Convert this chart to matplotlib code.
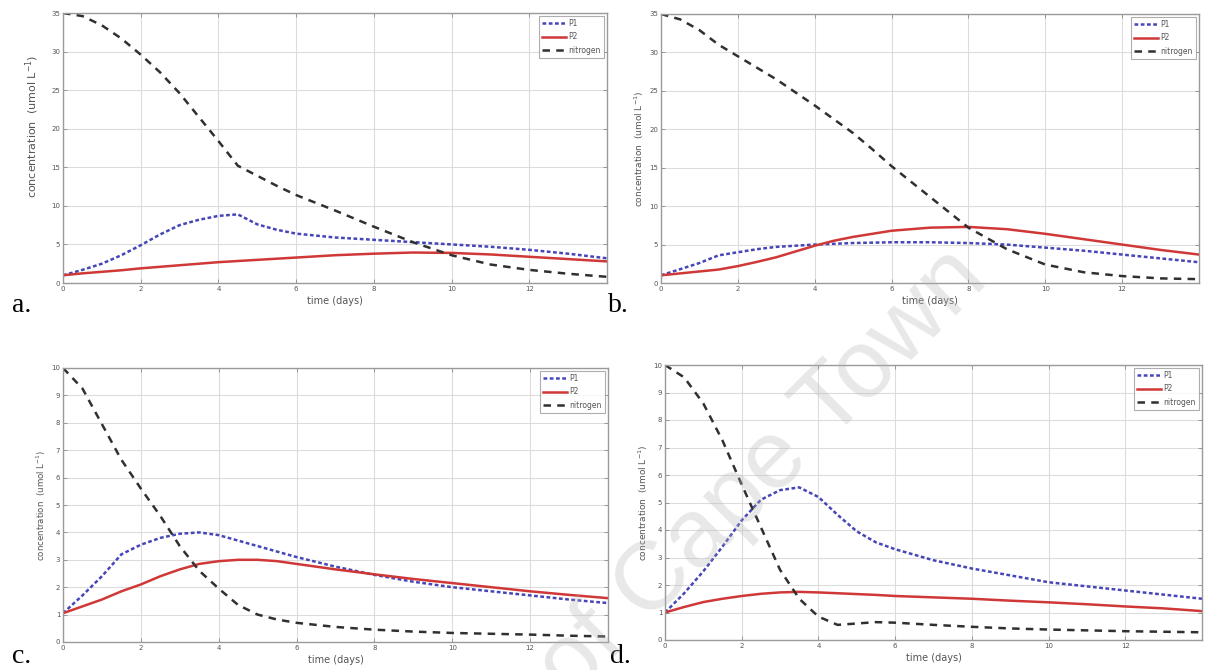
import matplotlib
matplotlib.use("Agg")
import matplotlib.pyplot as plt

# ---- data ----
t = [0, 0.5, 1, 1.5, 2, 2.5, 3, 3.5, 4, 4.5, 5, 5.5, 6, 7, 8, 9, 10, 11, 12, 13, 14]

p1_a = [1.0, 1.7, 2.5, 3.6, 4.9, 6.3, 7.5, 8.2, 8.7, 8.9, 7.6, 6.9, 6.4, 5.9, 5.6, 5.3, 5.0, 4.7, 4.3, 3.8, 3.2]
p2_a = [1.0, 1.25, 1.45, 1.65, 1.9, 2.1, 2.3, 2.5, 2.7, 2.85, 3.0, 3.15, 3.3, 3.6, 3.8, 3.95, 3.9, 3.7, 3.4, 3.1, 2.8]
n_a = [35, 34.6, 33.4, 31.7, 29.6, 27.3, 24.6, 21.5, 18.4, 15.2, 13.9, 12.6, 11.4, 9.4, 7.3, 5.3, 3.6, 2.4, 1.7, 1.2, 0.8]

p1_b = [1.0, 1.8, 2.6, 3.6, 4.0, 4.4, 4.7, 4.85, 5.0, 5.1, 5.2, 5.25, 5.3, 5.3, 5.2, 5.0, 4.6, 4.2, 3.7, 3.2, 2.7]
p2_b = [1.0, 1.25, 1.5, 1.75, 2.2, 2.75, 3.35, 4.1, 4.85, 5.5, 6.0, 6.4, 6.8, 7.2, 7.3, 7.0, 6.4, 5.7, 5.0, 4.3, 3.7]
n_b = [35, 34.3, 32.9, 31.0, 29.5, 28.0, 26.5, 24.8, 23.1, 21.3, 19.5, 17.4, 15.2, 11.2, 7.2, 4.4, 2.4, 1.4, 0.9, 0.6, 0.5]

p1_c = [1.05, 1.7, 2.4, 3.2, 3.55, 3.8, 3.95, 4.0, 3.9, 3.7, 3.5, 3.3, 3.1, 2.75, 2.45, 2.2, 2.0, 1.85, 1.7, 1.55, 1.42]
p2_c = [1.05, 1.3, 1.55, 1.85, 2.1, 2.4, 2.65, 2.85, 2.95, 3.0, 3.0, 2.95, 2.85, 2.65, 2.47, 2.3, 2.15, 2.0, 1.85, 1.72, 1.6]
n_c = [10, 9.25, 7.95, 6.65, 5.6, 4.6, 3.5, 2.6, 1.95, 1.35, 1.0, 0.82, 0.7, 0.55, 0.45, 0.38, 0.33, 0.3, 0.27, 0.23, 0.2]

p1_d = [1.0, 1.7, 2.5, 3.4, 4.35, 5.1, 5.45, 5.55, 5.2, 4.55, 3.95, 3.55, 3.3, 2.9, 2.6, 2.35, 2.1, 1.95, 1.8, 1.65, 1.5]
p2_d = [1.0, 1.2, 1.38, 1.5, 1.6, 1.68, 1.73, 1.75, 1.73, 1.7, 1.67, 1.64, 1.6, 1.55, 1.5, 1.43, 1.37, 1.3, 1.22, 1.15, 1.05]
n_d = [10, 9.55, 8.6, 7.25, 5.65, 4.1, 2.55, 1.5, 0.85, 0.55, 0.6, 0.65, 0.63, 0.55, 0.48, 0.42, 0.38, 0.35, 0.32, 0.3, 0.28]

series_names = ["P1", "P2", "nitrogen"]
panel_letters = ["a.", "b.", "c.", "d."]
xticks = [0, 2, 4, 6, 8, 10, 12]
yticks_big = [0, 5, 10, 15, 20, 25, 30, 35]
yticks_small = [0, 1, 2, 3, 4, 5, 6, 7, 8, 9, 10]
xlabel = "time (days)"
ylabel = "concentration  (umol L$^{-1}$)"

W, H = 1206, 670
fig = plt.figure(figsize=(W / 100, H / 100), dpi=100)
fig.patch.set_facecolor("white")


def px_rect(l, r, top, bot):
    return [l / W, 1 - bot / H, (r - l) / W, (bot - top) / H]


rects = [
    px_rect(63, 607, 13, 283),
    px_rect(661, 1199, 14, 283),
    px_rect(63, 608, 368, 642),
    px_rect(665, 1202, 365, 640),
]
data = [
    (p1_a, p2_a, n_a, 35, yticks_big),
    (p1_b, p2_b, n_b, 35, yticks_big),
    (p1_c, p2_c, n_c, 10, yticks_small),
    (p1_d, p2_d, n_d, 10, yticks_small),
]
ylabel_sizes = [8, 6.5, 6.2, 6.5]

for i, (rect, (p1, p2, nn, ymax, yt)) in enumerate(zip(rects, data)):
    ax = fig.add_axes(rect)
    ax.plot(t, p1, color="#4646b8", linestyle=(0, (1.5, 1.0)), linewidth=1.8, label=series_names[0])
    ax.plot(t, p2, color="#d03838", linestyle="-", linewidth=1.8, label=series_names[1])
    ax.plot(t, nn, color="#303030", linestyle=(0, (3, 2.5)), linewidth=1.8, label=series_names[2])
    ax.set_xlim(0, 14)
    ax.set_ylim(0, ymax)
    ax.set_xticks(xticks)
    ax.set_yticks(yt)
    ax.grid(True, color="#dcdcdc", linewidth=0.8)
    ax.set_axisbelow(True)
    for s in ax.spines.values():
        s.set_color("#9a9a9a")
        s.set_linewidth(1.0)
    ax.tick_params(direction="in", length=3, width=0.6, colors="#8a8a8a",
                   labelcolor="#555555", labelsize=5, top=True, right=True, pad=2)
    ax.set_xlabel(xlabel, fontsize=7, color="#555555", labelpad=3)
    ax.set_ylabel(ylabel, fontsize=ylabel_sizes[i], color="#555555", labelpad=2)
    if i == 0:
        ax.yaxis.set_label_coords(-0.04, 0.58)
    leg = ax.legend(loc="upper right", fontsize=5.5, frameon=True, fancybox=False,
                    handlelength=3.2, borderpad=0.4, labelspacing=0.55,
                    handletextpad=0.3, borderaxespad=0.4)
    leg.get_frame().set_edgecolor("#9a9a9a")
    leg.get_frame().set_linewidth(0.8)
    for txt in leg.get_texts():
        txt.set_color("#555555")

label_pos = [(12, 312), (608, 312), (12, 663), (610, 663)]
for lab, (x, y) in zip(panel_letters, label_pos):
    fig.text(x / W, 1 - y / H, lab, fontsize=20, family="Liberation Serif",
             ha="left", va="baseline", color="black")

# watermark
fig.text(990 / W, 1 - 282 / H, "University of Cape Town", fontsize=70,
         family="Liberation Sans", color="#b4b4b4", alpha=0.3, rotation=45,
         rotation_mode="anchor", ha="right", va="baseline", zorder=10)

fig.savefig("out.png", dpi=100, facecolor="white")
